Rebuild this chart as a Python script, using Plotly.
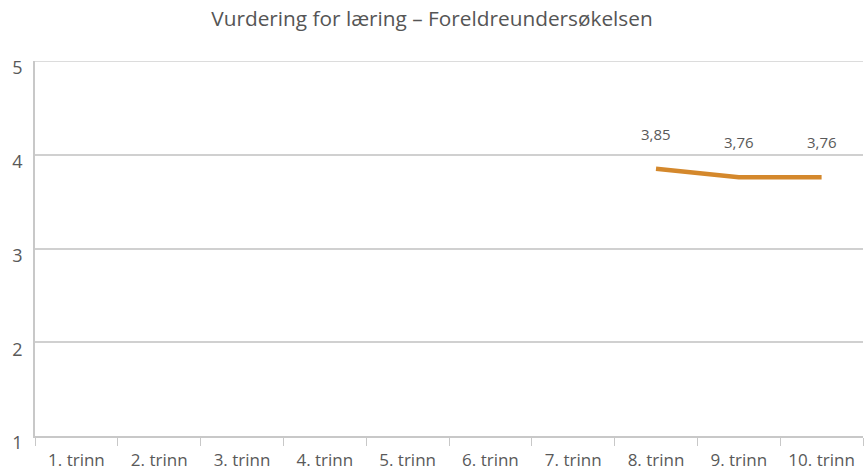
import plotly.graph_objects as go

categories = ["1. trinn", "2. trinn", "3. trinn", "4. trinn", "5. trinn",
              "6. trinn", "7. trinn", "8. trinn", "9. trinn", "10. trinn"]
values = [None, None, None, None, None, None, None, 3.85, 3.76, 3.76]
value_labels = ["3,85", "3,76", "3,76"]
y_ticks = [1, 2, 3, 4, 5]

fig = go.Figure()
fig.add_trace(go.Scatter(
    x=categories, y=values, mode="lines",
    line=dict(color="#D4882C", width=4.5),
    hoverinfo="skip", showlegend=False))

labeled = [(c, v) for c, v in zip(categories, values) if v is not None]
for (c, v), t in zip(labeled, value_labels):
    fig.add_annotation(x=c, y=v, text=t, showarrow=False, yshift=35,
                       font=dict(family="Open Sans", size=15, color="#595959"))

# top grid line at y = 5
fig.add_shape(type="line", xref="paper", x0=0, x1=1, yref="y", y0=5, y1=5,
              line=dict(color="#d0d0d0", width=1.5), layer="below")

fig.update_layout(
    width=864, height=472,
    margin=dict(l=35, r=1, t=61, b=36),
    paper_bgcolor="white", plot_bgcolor="white",
    title=dict(text="Vurdering for læring – Foreldreundersøkelsen",
               x=0.5, xanchor="center", y=0.96, yref="container",
               yanchor="middle",
               font=dict(family="Open Sans", size=20.8, color="#555555")),
    font=dict(family="Open Sans", color="#595959"),
)
fig.update_xaxes(
    type="category", categoryorder="array", categoryarray=categories,
    range=[-0.5, 9.5], tickson="boundaries", ticks="outside", ticklen=8,
    tickcolor="#c8c8c8", showline=True, linecolor="#c8c8c8", linewidth=1.5,
    showgrid=False, tickfont=dict(size=17, color="#595959"), fixedrange=True,
    ticklabelstandoff=8, automargin=False)
fig.update_yaxes(
    range=[1, 5], tickvals=y_ticks, showgrid=True, gridcolor="#d0d0d0",
    gridwidth=1.5, showline=True, linecolor="#c8c8c8", linewidth=1.5,
    zeroline=False, tickfont=dict(size=18, color="#595959"),
    ticklabelstandoff=7, ticklabelshift=7, fixedrange=True, automargin=False)

fig.write_html("out.html", config={"displayModeBar": False},
               post_script="document.body.style.margin='0';"
                           "document.body.style.overflow='hidden';")
